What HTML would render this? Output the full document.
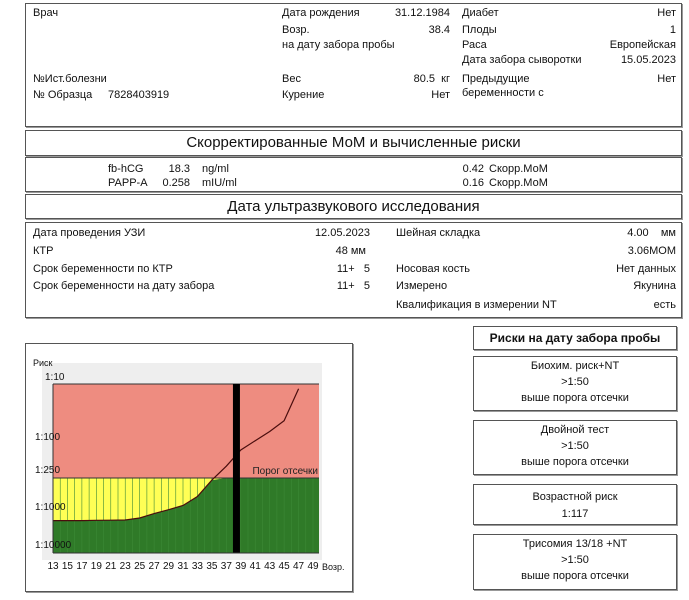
<!DOCTYPE html>
<html><head><meta charset="utf-8"><style>
body{margin:0;width:689px;height:600px;background:#fff;font-family:"Liberation Sans",sans-serif;font-size:11px;color:#111;position:relative;overflow:hidden}
.b{position:absolute;border:1px solid #555;box-sizing:border-box;box-shadow:1px 1px 0 #999}
.t{position:absolute;line-height:14px;white-space:nowrap}
.r{text-align:right}
.h{position:absolute;left:0;right:0;text-align:center;font-size:15px;line-height:24px}
.c{position:absolute;left:0;right:0;text-align:center;line-height:14px}
</style></head><body>
<div class="b" style="left:25px;top:3px;width:657px;height:124px"></div>
<span class="t" style="left:33px;top:6px">Врач</span>
<span class="t" style="left:33px;top:72px">№Ист.болезни</span>
<span class="t" style="left:33px;top:88px">№ Образца</span>
<span class="t" style="left:108px;top:88px">7828403919</span>
<span class="t" style="left:282px;top:6px">Дата рождения</span>
<span class="t r" style="right:239px;top:6px">31.12.1984</span>
<span class="t" style="left:282px;top:23px">Возр.</span>
<span class="t r" style="right:239px;top:23px">38.4</span>
<span class="t" style="left:282px;top:38px">на дату забора пробы</span>
<span class="t" style="left:282px;top:72px">Вес</span>
<span class="t r" style="right:239px;top:72px">80.5&nbsp;&nbsp;кг</span>
<span class="t" style="left:282px;top:88px">Курение</span>
<span class="t r" style="right:239px;top:88px">Нет</span>
<span class="t" style="left:462px;top:6px">Диабет</span>
<span class="t r" style="right:13px;top:6px">Нет</span>
<span class="t" style="left:462px;top:23px">Плоды</span>
<span class="t r" style="right:13px;top:23px">1</span>
<span class="t" style="left:462px;top:38px">Раса</span>
<span class="t r" style="right:13px;top:38px">Европейская</span>
<span class="t" style="left:462px;top:53px">Дата забора сыворотки</span>
<span class="t r" style="right:13px;top:53px">15.05.2023</span>
<span class="t" style="left:462px;top:72px">Предыдущие<br>беременности с</span>
<span class="t r" style="right:13px;top:72px">Нет</span>

<div class="b" style="left:25px;top:130px;width:657px;height:26px"><div class="h">Скорректированные МоМ и вычисленные риски</div></div>
<div class="b" style="left:25px;top:157px;width:657px;height:35px"></div>
<span class="t" style="left:108px;top:162px">fb-hCG</span>
<span class="t r" style="right:499px;top:162px">18.3</span>
<span class="t" style="left:202px;top:162px">ng/ml</span>
<span class="t r" style="right:205px;top:162px">0.42</span>
<span class="t" style="left:489px;top:162px">Скорр.МоМ</span>
<span class="t" style="left:108px;top:176px">PAPP-A</span>
<span class="t r" style="right:499px;top:176px">0.258</span>
<span class="t" style="left:202px;top:176px">mIU/ml</span>
<span class="t r" style="right:205px;top:176px">0.16</span>
<span class="t" style="left:489px;top:176px">Скорр.МоМ</span>

<div class="b" style="left:25px;top:194px;width:657px;height:25px"><div class="h">Дата ультразвукового исследования</div></div>
<div class="b" style="left:25px;top:222px;width:657px;height:96px"></div>
<span class="t" style="left:33px;top:226px">Дата проведения УЗИ</span>
<span class="t r" style="right:319px;top:226px">12.05.2023</span>
<span class="t" style="left:33px;top:244px">КТР</span>
<span class="t r" style="right:323px;top:244px">48 мм</span>
<span class="t" style="left:33px;top:262px">Срок беременности по КТР</span>
<span class="t r" style="right:319px;top:262px">11+&nbsp;&nbsp;&nbsp;5</span>
<span class="t" style="left:33px;top:279px">Срок беременности на дату забора</span>
<span class="t r" style="right:319px;top:279px">11+&nbsp;&nbsp;&nbsp;5</span>
<span class="t" style="left:396px;top:226px">Шейная складка</span>
<span class="t r" style="right:13px;top:226px">4.00&nbsp;&nbsp;&nbsp;&nbsp;мм</span>
<span class="t r" style="right:13px;top:244px">3.06МОМ</span>
<span class="t" style="left:396px;top:262px">Носовая кость</span>
<span class="t r" style="right:13px;top:262px">Нет данных</span>
<span class="t" style="left:396px;top:279px">Измерено</span>
<span class="t r" style="right:13px;top:279px">Якунина</span>
<span class="t" style="left:396px;top:298px">Квалификация в измерении NT</span>
<span class="t r" style="right:13px;top:298px">есть</span>

<div class="b" style="left:473px;top:326px;width:204px;height:24px"><div class="c" style="top:4px;font-weight:bold;font-size:12px">Риски на дату забора пробы</div></div>
<div class="b" style="left:473px;top:356px;width:204px;height:55px"><div class="c" style="top:2px">Биохим. риск+NT<br><span style="line-height:18px">&gt;1:50</span><br>выше порога отсечки</div></div>
<div class="b" style="left:473px;top:420px;width:204px;height:55px"><div class="c" style="top:2px">Двойной тест<br><span style="line-height:18px">&gt;1:50</span><br>выше порога отсечки</div></div>
<div class="b" style="left:473px;top:484px;width:204px;height:41px"><div class="c" style="top:4px;line-height:17px">Возрастной риск<br>1:117</div></div>
<div class="b" style="left:473px;top:534px;width:204px;height:56px"><div class="c" style="top:2px">Трисомия 13/18 +NT<br><span style="line-height:18px">&gt;1:50</span><br>выше порога отсечки</div></div>

<div class="b" style="left:25px;top:343px;width:328px;height:249px"></div>
<svg id="chart" width="689" height="600" style="position:absolute;left:0;top:0" font-family="Liberation Sans, sans-serif" font-size="10"></svg>
<script>
const ages=[13,15,17,19,21,23,25,27,29,31,33,35,37,39,41,43,45,47];
const riskDenoms=[1400,1400,1400,1380,1370,1350,1200,950,820,700,500,270,180,115,85,60,40,12];
const yTickLabels=['1:10','1:100','1:250','1:1000','1:10000'];
const yTickDenoms=[10,100,250,1000,10000];
const xTickLabels=[13,15,17,19,21,23,25,27,29,31,33,35,37,39,41,43,45,47,49];
const patientAge=[38.4];
const thresholdDenom=[250];

const NS='http://www.w3.org/2000/svg';
const svg=document.getElementById('chart');
const X0=53,X1=313,TOP=384,BOT=553,RIGHT=319;
const tickY=[384,445,478,515,553];
function xs(a){return X0+(a-13)*(X1-X0)/36;}
function ys(d){const l=Math.log10(d);const L=yTickDenoms.map(Math.log10);
 if(l<=L[0])return tickY[0]; if(l>=L[4])return tickY[4];
 for(let i=0;i<4;i++){if(l<=L[i+1])return tickY[i]+(l-L[i])/(L[i+1]-L[i])*(tickY[i+1]-tickY[i]);}}
function mk(t,a,p){const e=document.createElementNS(NS,t);for(const k in a)e.setAttribute(k,a[k]);(p||svg).appendChild(e);return e;}
let e;
e=mk('rect',{x:42,y:363,width:280,height:197,fill:'#eeeeee'});


const thY=ys(thresholdDenom[0]);
e=mk('rect',{x:X0,y:TOP,width:RIGHT-X0,height:thY-TOP,fill:'#ee8c80'});


e=mk('rect',{x:X0,y:thY,width:RIGHT-X0,height:BOT-thY,fill:'#ffff55'});


// green area under curve clipped to below threshold
let pts=ages.map((a,i)=>[xs(a),Math.max(ys(riskDenoms[i]),thY)]);
let d='M'+X0+','+BOT+' '+pts.map(p=>'L'+p[0].toFixed(1)+','+p[1].toFixed(1)).join(' ')+' L'+RIGHT+','+thY+' L'+RIGHT+','+BOT+'Z';
e=mk('path',{d:d,fill:'#2f7a28'});


for(let a=14;a<=49;a+=1){const x=xs(a);
 e=mk('line',{x1:x,x2:x,y1:thY,y2:BOT,stroke:'#3d8a36','stroke-width':0.6});
 
 }
e=mk('line',{x1:X0,x2:RIGHT,y1:thY,y2:thY,stroke:'#333','stroke-width':1});


e=mk('line',{x1:X0,x2:RIGHT,y1:TOP,y2:TOP,stroke:'#333','stroke-width':1});


e=mk('text',{x:RIGHT-1,y:thY-4,'text-anchor':'end',fill:'#222','font-size':10});
e.textContent='Порог отсечки';


const lp=ages.map((a,i)=>[xs(a),ys(riskDenoms[i])]);
e=mk('path',{d:'M'+lp.map(p=>p[0].toFixed(1)+','+p[1].toFixed(1)).join(' L'),fill:'none',stroke:'#4a0d0d','stroke-width':1.2});


const bx=xs(patientAge[0]);
e=mk('rect',{x:bx-3.5,y:TOP,width:7,height:BOT-TOP,fill:'#000'});


e=mk('line',{x1:X0,x2:RIGHT,y1:BOT,y2:BOT,stroke:'#333','stroke-width':1});


e=mk('line',{x1:X0,x2:X0,y1:TOP,y2:BOT,stroke:'#333','stroke-width':1});


yTickLabels.forEach((t,i)=>{const y=ys(yTickDenoms[i]);
 e=mk('text',{x:i==0?45:35,y:i==0?y-4:y-5,fill:'#111','font-size':10});
 e.textContent=t;
 
 });
xTickLabels.forEach(a=>{
 e=mk('text',{x:xs(a),y:569,'text-anchor':'middle',fill:'#111','font-size':10});
 e.textContent=a;
 
 });
e=mk('text',{x:322,y:570,fill:'#111','font-size':9});
e.textContent='Возр.';


e=mk('text',{x:33,y:366,fill:'#111','font-size':9});
e.textContent='Риск';


</script>
</body></html>
